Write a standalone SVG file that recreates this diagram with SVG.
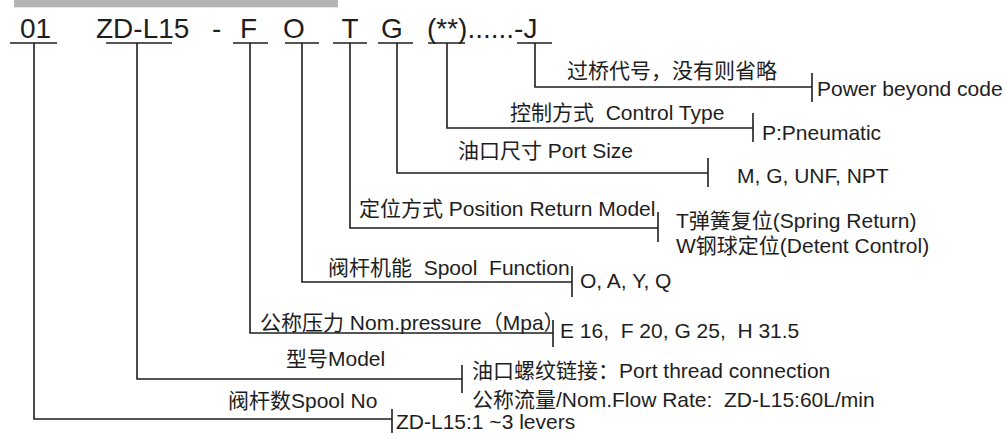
<svg xmlns="http://www.w3.org/2000/svg" width="1006" height="434" viewBox="0 0 1006 434">
<style>
text{font-family:"Liberation Sans","Noto Sans CJK SC",sans-serif;fill:#1e1e1e}
.code{font-size:28px}
.lbl{font-size:21px}
.ul{stroke:#1e1e1e;stroke-width:1.4;fill:none}
.con{stroke:#1e1e1e;stroke-width:1.6;fill:none}
</style>
<rect x="14" y="0" width="324" height="7.3" fill="#b4b4b4"/>
<g id="code-01"><text class="code" x="20" y="37.5">01</text><line class="ul" x1="10" y1="43" x2="57" y2="43"/></g>
<g id="code-model"><text class="code" x="96" y="37.5">ZD-L15</text><line class="ul" x1="106" y1="43" x2="172" y2="43"/></g>
<g id="code-dash"><text class="code" x="212" y="37.5">-</text></g>
<g id="code-F"><text class="code" x="240" y="37.5">F</text><line class="ul" x1="233" y1="43" x2="268" y2="43"/></g>
<g id="code-O"><text class="code" x="283" y="37.5">O</text><line class="ul" x1="285" y1="43" x2="319" y2="43"/></g>
<g id="code-T"><text class="code" x="341.5" y="37.5">T</text><line class="ul" x1="333" y1="43" x2="367" y2="43"/></g>
<g id="code-G"><text class="code" x="381" y="37.5">G</text><line class="ul" x1="378" y1="43" x2="413" y2="43"/></g>
<g id="code-tail"><text class="code" x="427" y="37.5">(**)......-J</text><line class="ul" x1="428" y1="43" x2="465" y2="43"/><line class="ul" x1="517" y1="43" x2="552" y2="43"/></g>

<g id="connectors" class="con">
<path d="M535 43V87H812M812 73V102"/>
<path d="M447 43V128H753M753 113V142"/>
<path d="M397 43V173H708M708 158V187"/>
<path d="M350 43V228H658M658 212V242"/>
<path d="M302 43V282H572M572 266V297"/>
<path d="M250 43V333H553M553 320V347"/>
<path d="M137 43V379H462M462 365V393"/>
<path d="M34 43V419H392M392 409V433"/>
</g>

<g id="n-powerbeyond"><text class="lbl" x="567" y="78">过桥代号，没有则省略</text><text class="lbl" x="817" y="95.5">Power beyond code</text></g>
<g id="n-control"><text class="lbl" x="510" y="119.5" xml:space="preserve">控制方式  Control Type</text><text class="lbl" x="762" y="140">P:Pneumatic</text></g>
<g id="n-port"><text class="lbl" x="458" y="157.5">油口尺寸 Port Size</text><text class="lbl" x="737" y="182.5">M, G, UNF, NPT</text></g>
<g id="n-position"><text class="lbl" x="359" y="215.5">定位方式 Position Return Model</text><text class="lbl" x="676" y="227.5">T弹簧复位(Spring Return)</text><text class="lbl" x="676" y="252.5">W钢球定位(Detent Control)</text></g>
<g id="n-spool"><text class="lbl" x="328" y="274.5" xml:space="preserve">阀杆机能  Spool  Function</text><text class="lbl" x="580" y="287.5">O, A, Y, Q</text></g>
<g id="n-pressure"><text class="lbl" x="260" y="329.5">公称压力 Nom.pressure（Mpa）</text><text class="lbl" x="560" y="337.5" xml:space="preserve">E 16,  F 20, G 25,  H 31.5</text></g>
<g id="n-model"><text class="lbl" x="286" y="365.5">型号Model</text><text class="lbl" x="472" y="377.5">油口螺纹链接：Port thread connection</text><text class="lbl" x="472" y="407" xml:space="preserve">公称流量/Nom.Flow Rate:  ZD-L15:60L/min</text></g>
<g id="n-spoolno"><text class="lbl" x="228" y="408">阀杆数Spool No</text><text class="lbl" x="396" y="429" xml:space="preserve">ZD-L15:1 ~3 levers</text></g>
</svg>
